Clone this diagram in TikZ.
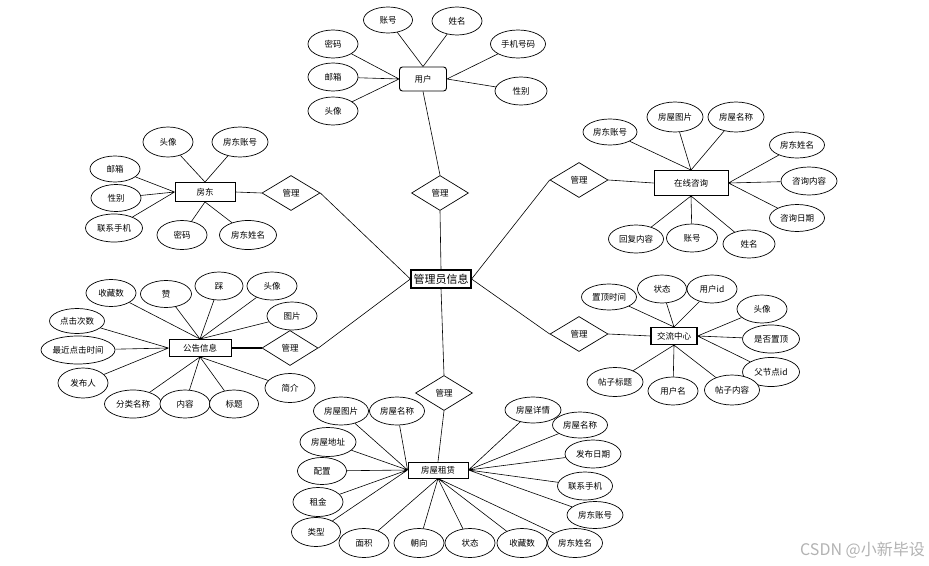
\documentclass[tikz,border=0pt]{standalone}
\usepackage{fontspec}
\setmainfont{Noto Sans CJK SC}
\usetikzlibrary{shapes.geometric}
\begin{document}
\begin{tikzpicture}[x=1pt,y=-1pt,
  attr/.style={draw,ellipse,fill=white,inner sep=0pt,minimum width=50pt,minimum height=28pt,font=\fontsize{8.5}{10}\selectfont,line width=0.7pt},
  ent/.style={draw,rectangle,fill=white,inner sep=0pt,minimum width=60pt,minimum height=18pt,font=\fontsize{8.5}{10}\selectfont,line width=0.9pt},
  rel/.style={draw,diamond,fill=white,shape aspect=1.65,inner sep=0pt,minimum width=57pt,minimum height=35pt,font=\fontsize{8.5}{10}\selectfont,line width=0.7pt},
  conn/.style={line width=0.6pt}
]
\useasboundingbox (0,0) rectangle (929,565);
% central
\node[ent,line width=1.2pt,font=\fontsize{11}{13}\selectfont] (c) at (441,279) {管理员信息};
% ---- user
\node[ent,rounded corners=3pt,minimum width=47pt,minimum height=24pt] (yh) at (423,79) {用户};
\node[attr,minimum width=49pt,minimum height=26pt] (u1) at (388,20) {账号};
\node[attr] (u2) at (457,21) {姓名};
\node[attr,minimum width=55pt] (u3) at (518,44) {手机号码};
\node[attr,minimum width=52pt] (u4) at (521,91) {性别};
\node[attr] (u5) at (333,44) {密码};
\node[attr] (u6) at (333,77) {邮箱};
\node[attr] (u7) at (333,111) {头像};
\node[rel] (d1) at (440,193) {管理};
\draw[conn] (u1) -- (yh.north) (u2) -- (yh.north)
  (u5) -- (yh.west) (u6) -- (yh.west) (u7) -- (yh.west)
  (u3) -- (yh.east) (u4) -- (yh.east);
\draw[conn] (yh.south) -- (d1.north);
\draw[conn] (d1.south) -- (c.north);
% ---- landlord
\node[ent,minimum height=19pt] (fd) at (205,192) {房东};
\node[attr,minimum height=30pt] (l1) at (168,142) {头像};
\node[attr,minimum width=56pt,minimum height=30pt] (l2) at (240,142) {房东账号};
\node[attr,minimum height=26pt] (l3) at (115,169) {邮箱};
\node[attr,minimum height=27pt] (l4) at (116,198) {性别};
\node[attr,minimum width=57pt] (l5) at (114,228) {联系手机};
\node[attr,minimum height=29pt] (l6) at (182,235) {密码};
\node[attr,minimum width=57pt,minimum height=29pt] (l7) at (248,235) {房东姓名};
\node[rel,minimum width=58pt] (d2) at (291,193) {管理};
\draw[conn] (l1) -- (fd.north) (l2) -- (fd.north)
  (l3) -- (fd.west) (l4) -- (fd.west) (l5) -- (fd.west)
  (l6) -- (fd.south) (l7) -- (fd.south);
\draw[conn] (fd.east) -- (d2.west);
\draw[conn] (d2.east) -- (c.west);
% ---- online consult
\node[ent,minimum width=74pt,minimum height=25pt] (zx) at (691,183) {在线咨询};
\node[attr,minimum width=54pt,minimum height=26pt] (o1) at (610,132) {房东账号};
\node[attr,minimum width=56pt,minimum height=30pt] (o2) at (675,117) {房屋图片};
\node[attr,minimum width=56pt,minimum height=30pt] (o3) at (736,117) {房屋名称};
\node[attr,minimum width=55pt,minimum height=26pt] (o4) at (797,145) {房东姓名};
\node[attr,minimum width=56pt] (o5) at (809,181) {咨询内容};
\node[attr,minimum width=55pt,minimum height=27pt] (o6) at (797,218) {咨询日期};
\node[attr,minimum width=55pt] (o7) at (636,239) {回复内容};
\node[attr,minimum width=51pt] (o8) at (692,238) {账号};
\node[attr,minimum width=52pt] (o9) at (749,244) {姓名};
\node[rel,minimum width=58pt] (d3) at (579,180) {管理};
\draw[conn] (o1) -- (zx.north) (o2) -- (zx.north) (o3) -- (zx.north)
  (o4) -- (zx.east) (o5) -- (zx.east) (o6) -- (zx.east)
  (o7) -- (zx.south) (o8) -- (zx.south) (o9) -- (zx.south);
\draw[conn] (d3.east) -- (zx.west);
\draw[conn] (d3.west) -- (c.east);
% ---- announcement
\node[ent,minimum width=62pt,minimum height=17pt] (gg) at (200,348) {公告信息};
\node[attr,minimum height=27pt] (a1) at (111,293) {收藏数};
\node[attr,minimum width=51pt,minimum height=27pt] (a2) at (166,294) {赞};
\node[attr,minimum width=48pt] (a3) at (219,286) {踩};
\node[attr] (a4) at (272,286) {头像};
\node[attr] (a5) at (292,316) {图片};
\node[attr,minimum width=55pt,minimum height=25pt] (a6) at (77,321) {点击次数};
\node[attr,minimum width=74pt] (a7) at (78,350) {最近点击时间};
\node[attr,minimum height=30pt] (a8) at (83,383) {发布人};
\node[attr,minimum width=57pt] (a9) at (133,404) {分类名称};
\node[attr] (a10) at (185,404) {内容};
\node[attr,minimum width=49pt] (a11) at (234,404) {标题};
\node[attr,minimum height=29pt] (a12) at (290,388) {简介};
\node[rel,minimum width=56pt] (d4) at (290,348) {管理};
\draw[conn] (a1) -- (gg.north) (a2) -- (gg.north) (a3) -- (gg.north) (a4) -- (gg.north) (a5) -- (gg.north)
  (a6) -- (gg.west) (a7) -- (gg.west) (a8) -- (gg.west)
  (a9) -- (gg.south) (a10) -- (gg.south) (a11) -- (gg.south) (a12) -- (gg.south);
\draw[line width=1.5pt] (gg.east) -- (d4.west);
\draw[conn] (d4.east) -- (c.west);
% ---- exchange center
\node[ent,minimum width=46pt,minimum height=17pt,line width=1.1pt] (jl) at (674,336) {交流中心};
\node[attr,minimum width=55pt,minimum height=26pt] (e1) at (609,297) {置顶时间};
\node[attr,minimum width=49pt] (e2) at (662,289) {状态};
\node[attr] (e3) at (712,289) {用户id};
\node[attr] (e4) at (762,309) {头像};
\node[attr,minimum width=57pt] (e5) at (771,339) {是否置顶};
\node[attr,minimum width=57pt,minimum height=29pt] (e6) at (771,372) {父节点id};
\node[attr,minimum width=56pt,minimum height=29pt] (e7) at (615,382) {帖子标题};
\node[attr] (e8) at (673,391) {用户名};
\node[attr,minimum width=55pt,minimum height=30pt] (e9) at (732,390) {帖子内容};
\node[rel,minimum width=58pt] (d5) at (579,334) {管理};
\draw[conn] (e1) -- (jl.north) (e2) -- (jl.north) (e3) -- (jl.north)
  (e4) -- (jl.east) (e5) -- (jl.east) (e6) -- (jl.east)
  (e7) -- (jl.south) (e8) -- (jl.south) (e9) -- (jl.south);
\draw[conn] (d5.east) -- (jl.west);
\draw[conn] (d5.west) -- (c.east);
% ---- housing rental
\node[ent,minimum height=16pt] (zl) at (438,470) {房屋租赁};
\node[rel] (d6) at (444,393) {管理};
\node[attr,minimum width=55pt] (r1) at (341,411) {房屋图片};
\node[attr,minimum width=55pt] (r2) at (397,411) {房屋名称};
\node[attr,minimum width=56pt,minimum height=29pt] (r3) at (328,442) {房屋地址};
\node[attr,minimum width=49pt,minimum height=27pt] (r4) at (322,471) {配置};
\node[attr,minimum height=29pt] (r5) at (318,502) {租金};
\node[attr,minimum width=49pt,minimum height=29pt] (r6) at (316,532) {类型};
\node[attr,minimum height=29pt] (r7) at (364,543) {面积};
\node[attr,minimum height=29pt] (r8) at (419,543) {朝向};
\node[attr,minimum height=29pt] (r9) at (470,543) {状态};
\node[attr,minimum height=29pt] (r10) at (522,543) {收藏数};
\node[attr,minimum width=55pt,minimum height=29pt] (r11) at (575,543) {房东姓名};
\node[attr,minimum width=56pt,minimum height=27pt] (r12) at (595,515) {房东账号};
\node[attr,minimum width=55pt] (r13) at (585,486) {联系手机};
\node[attr,minimum width=56pt] (r14) at (593,454) {发布日期};
\node[attr,minimum width=55pt,minimum height=26pt] (r15) at (580,425) {房屋名称};
\node[attr,minimum width=56pt,minimum height=26pt] (r16) at (533,410) {房屋详情};
\draw[conn] (r1) -- (zl.west) (r2) -- (zl.west) (r3) -- (zl.west) (r4) -- (zl.west) (r5) -- (zl.west) (r6) -- (zl.west)
  (r7) -- (zl.south) (r8) -- (zl.south) (r9) -- (zl.south) (r10) -- (zl.south) (r11) -- (zl.south)
  (r12) -- (zl.east) (r13) -- (zl.east) (r14) -- (zl.east) (r15) -- (zl.east) (r16) -- (zl.east);
\draw[conn] (c.south) -- (d6.north);
\draw[conn] (d6.south) -- (zl.north);
% watermark
\node[text=black!30,font=\fontsize{16}{18}\selectfont,anchor=east,inner sep=0pt] (wm) at (925,550) {CSDN @小新毕设};
\end{tikzpicture}
\end{document}
